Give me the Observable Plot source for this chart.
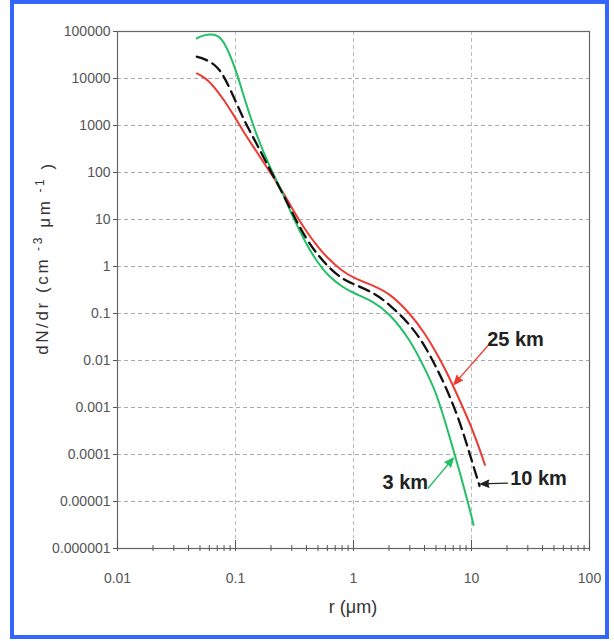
<!DOCTYPE html>
<html><head><meta charset="utf-8">
<script src="https://cdn.jsdelivr.net/npm/d3@7"></script>
<script src="https://cdn.jsdelivr.net/npm/@observablehq/plot@0.6"></script>
<style>
body{margin:0;background:#fff;}
#wrap{position:relative;width:614px;height:641px;overflow:hidden;background:#fff;}
#border{position:absolute;left:10px;top:0;width:591px;height:631px;border:4px solid #3366ff;pointer-events:none;}
#chart{position:absolute;left:0;top:0;}
</style></head><body>
<div id="wrap"><div id="chart"></div><div id="border"></div></div>
<script>
// ---- data ----
const rGreen = [0.047,0.05,0.06,0.07,0.08,0.1,0.12,0.15,0.2,0.25,0.3,0.4,0.5,0.6,0.8,1,1.5,2,3,4,5,6,8,10,10.4];
const v3km   = [71000,78300,88500,84300,62800,16700,3490,628,113,38.5,12.5,2.87,1.19,0.66,0.366,0.273,0.176,0.1025,0.0286,0.00692,0.00214,0.000491,0.0000408,0.00000491,0.00000316];
const rBlack = [0.047,0.05,0.06,0.07,0.08,0.1,0.12,0.15,0.2,0.25,0.3,0.4,0.5,0.6,0.8,1,1.5,2,3,4,5,6,8,10,11.7];
const v10km  = [29100,28000,23600,17600,11300,3320,1190,425,103,36.6,14.4,3.66,1.76,1.02,0.542,0.425,0.273,0.159,0.0598,0.0214,0.00728,0.00292,0.000499,0.0000764,0.0000214];
const rRed   = [0.047,0.05,0.06,0.07,0.08,0.1,0.12,0.15,0.2,0.25,0.3,0.4,0.5,0.6,0.8,1,1.5,2,3,4,5,6,8,10,12,13];
const v25km  = [12800,11900,8850,5420,3490,1450,659,286,93,40.4,17.6,5.42,2.60,1.52,0.80,0.569,0.385,0.273,0.1025,0.0385,0.0152,0.00659,0.001375,0.000385,0.0001104,0.0000598];

const xTicks = [0.01,0.1,1,10,100];
const xTickLabels = ["0.01","0.1","1","10","100"];
const xMinor = [2,3,4,5,6,7,8,9].flatMap(m => [0.01,0.1,1,10].map(d => m*d));
const yTicks = [1e-6,1e-5,1e-4,1e-3,1e-2,1e-1,1,10,100,1000,10000,100000];
const yTickLabels = ["0.000001","0.00001","0.0001","0.001","0.01","0.1","1","10","100","1000","10000","100000"];

// annotation labels (data coordinates)
const annoText  = ["25 km","10 km","3 km"];
const annoR     = [23.6, 37, 2.75];
const annoV     = [0.0273, 0.0000301, 0.0000248];
const arrowR1   = [13.7, 20.2, 4.3];
const arrowV1   = [0.0204, 0.0000245, 0.0000194];
const arrowR2   = [7.1, 11.9, 7.03];
const arrowV2   = [0.0031, 0.0000236, 0.0000843];
const annoColor = ["#ec3b32","#222222","#22c064"];

// ---- build ----
const toRows = (rs, vs) => rs.map((r, i) => ({r, v: vs[i]}));
const xLab = new Map(xTicks.map((t, i) => [t, xTickLabels[i]]));
const yLab = new Map(yTicks.map((t, i) => [t, yTickLabels[i]]));
const annos = annoText.map((t, i) => ({t, r: annoR[i], v: annoV[i], r1: arrowR1[i], v1: arrowV1[i], r2: arrowR2[i], v2: arrowV2[i], c: annoColor[i]}));
const narrow = '"Liberation Sans Narrow","Arial Narrow","Liberation Sans",Arial,sans-serif';

const chart = Plot.plot({
  width: 614, height: 641,
  marginLeft: 117, marginRight: 25, marginTop: 31, marginBottom: 93,
  style: {fontFamily: narrow, fontSize: "14px", color: "#555", background: "transparent", overflow: "visible"},
  x: {type: "log", domain: [0.01, 100], label: null},
  y: {type: "log", domain: [1e-6, 1e5], label: null},
  marks: [
    Plot.gridY(yTicks.slice(1, -1), {stroke: "#aaa", strokeOpacity: 1, strokeDasharray: "4,3"}),
    Plot.gridX(xTicks.slice(1, -1), {stroke: "#bbb", strokeOpacity: 1, strokeDasharray: "4,3"}),
    Plot.frame({stroke: "#666", strokeWidth: 1.2}),
    Plot.axisY(yTicks, {tickSize: 4, tickPadding: 3, tickFormat: d => yLab.get(d), label: null, stroke: "#555", fill: "#555"}),
    Plot.axisX(xTicks, {tickSize: 3, tickPadding: 22, tickFormat: d => xLab.get(d), label: null, stroke: "#555", fill: "#555"}),
    Plot.axisX(xTicks, {tickSize: -8, tickFormat: () => "", label: null, stroke: "#555"}),
    Plot.axisX(xMinor, {tickSize: 3, tickFormat: () => "", label: null, stroke: "#555"}),
    Plot.axisX(xMinor, {tickSize: -3, tickFormat: () => "", label: null, stroke: "#555"}),
    Plot.line(toRows(rRed, v25km), {x: "r", y: "v", stroke: "#ec3b32", strokeWidth: 2, curve: "basis"}),
    Plot.line(toRows(rGreen, v3km), {x: "r", y: "v", stroke: "#22c064", strokeWidth: 2, curve: "basis"}),
    Plot.line(toRows(rBlack, v10km), {x: "r", y: "v", stroke: "#111", strokeWidth: 2.3, strokeDasharray: "11,6", curve: "basis"}),
    Plot.arrow(annos, {x1: "r1", y1: "v1", x2: "r2", y2: "v2", stroke: "c", fill: "c", strokeWidth: 1.3, headLength: 11, headAngle: 45, insetStart: 0, insetEnd: 0}),
    Plot.text(annos, {x: "r", y: "v", text: "t", fill: "#222", fontSize: 20, fontWeight: "bold", fontFamily: narrow})
  ]
});
document.getElementById("chart").appendChild(chart);

const svg = d3.select(chart);
// y axis title
const yt = svg.append("text")
  .attr("transform", "translate(42,258) rotate(-90)")
  .attr("text-anchor", "middle").attr("dy", "0.35em")
  .style("font-family", '"Liberation Sans",Arial,sans-serif')
  .style("font-size", "17px").style("letter-spacing", "2.6px").attr("fill", "#333");
yt.append("tspan").text("dN/dr (cm");
yt.append("tspan").attr("dy", "-0.5em").style("font-size", "12px").text(" -3");
yt.append("tspan").attr("dy", "0.5em").text(" μm");
yt.append("tspan").attr("dy", "-0.5em").style("font-size", "12px").text(" -1");
yt.append("tspan").attr("dy", "0.5em").text(" )");
// x axis title
svg.append("text")
  .attr("x", 353).attr("y", 607).attr("text-anchor", "middle").attr("dy", "0.35em")
  .style("font-family", narrow).style("font-size", "18px").attr("fill", "#333")
  .text("r (μm)");
</script>
</body></html>
